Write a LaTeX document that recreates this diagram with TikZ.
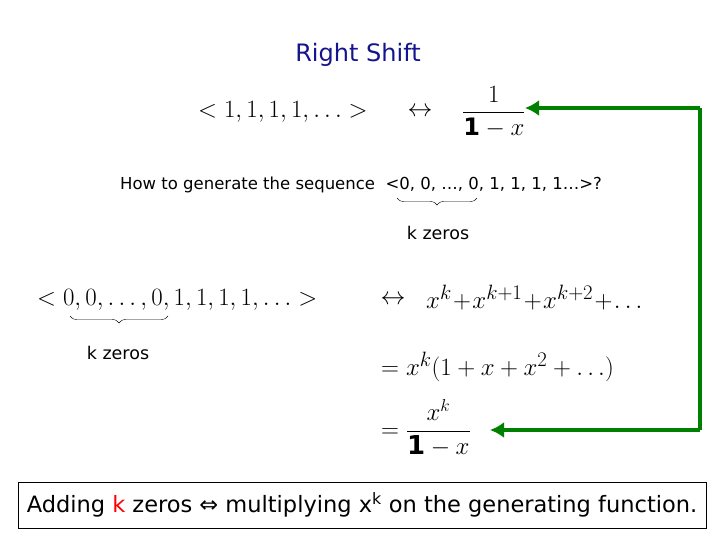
\documentclass[tikz,border=0pt]{standalone}
\usepackage{amsmath}
\usepackage{fontspec}
\setmainfont{DejaVu Sans}
\newfontfamily\symf{DejaVu Sans}
\usetikzlibrary{decorations.pathreplacing,arrows.meta}
\definecolor{navy}{RGB}{20,20,140}
\definecolor{grn}{RGB}{0,128,0}
\begin{document}
\begin{tikzpicture}[x=1pt,y=-1pt,
  txt/.style={inner sep=0pt,font=\fontsize{16.5}{18}\selectfont},
  mth/.style={inner sep=0pt,font=\fontsize{29}{32}\selectfont},
  brc/.style={decorate,decoration={brace,mirror,amplitude=7pt},thin},
  garr/.style={grn,line width=4pt,-{Latex[length=14pt,width=16pt]}}]
\useasboundingbox (0,0) rectangle (720,540);
\node[txt,navy,font=\fontsize{24}{26}\selectfont] (title) at (358,55) {Right Shift};
\node[mth,font=\fontsize{28}{30}\selectfont] (s1) at (283,112) {$<1,1,1,1,\ldots>$};
\node[mth] (lr1) at (420,112) {$\leftrightarrow$};
\node[mth,anchor=west,font=\fontsize{24}{26}\selectfont] (f1) at (462,112) {$\dfrac{1}{\mathbf{1}-x}$};
\node[txt,anchor=west] (q) at (120,185) {How to generate the sequence \ <0, 0, …, 0, 1, 1, 1, 1…>?};
\coordinate (b1a) at (397,198); \coordinate (b1b) at (477,198);
\draw[brc] (b1a) -- (b1b);
\node[txt,font=\fontsize{17.5}{19}\selectfont] (k1) at (438,233) {k zeros};
\node[mth,anchor=west] (s2) at (37,300) {$<0,0,\ldots,0,1,1,1,1,\ldots>$};
\node[mth] (lr2) at (393,300) {$\leftrightarrow$};
\node[mth,anchor=west] (r1) at (426,298) {$x^k\!+\!x^{k+1}\!+\!x^{k+2}\!+\!\ldots$};
\coordinate (b2a) at (70,316); \coordinate (b2b) at (168,316);
\draw[brc] (b2a) -- (b2b);
\node[txt,font=\fontsize{17.5}{19}\selectfont] (k2) at (118,353) {k zeros};
\node[mth,anchor=west,font=\fontsize{28}{30}\selectfont] (r2) at (381,367) {$=x^k(1+x+x^2+\ldots)$};
\node[mth,anchor=west,font=\fontsize{26}{28}\selectfont] (r3) at (381,428) {$=\dfrac{x^k}{\mathbf{1}-x}$};
\coordinate (gt) at (700,108); \coordinate (gb) at (700,430);
\coordinate (ge) at (525,108);
\draw[garr] (gt) -- (ge);
\draw[grn,line width=4pt] (gt) -- (gb);
\draw[garr] (gb) -- (490,430);
\node[draw,thick,minimum width=688,minimum height=46,inner sep=0pt,font=\fontsize{22.5}{24}\selectfont] (box) at (362,505)
 {Adding \textcolor{red}{k} zeros {\symf ⇔} multiplying x\textsuperscript{k} on the generating function.};
\end{tikzpicture}
\end{document}
